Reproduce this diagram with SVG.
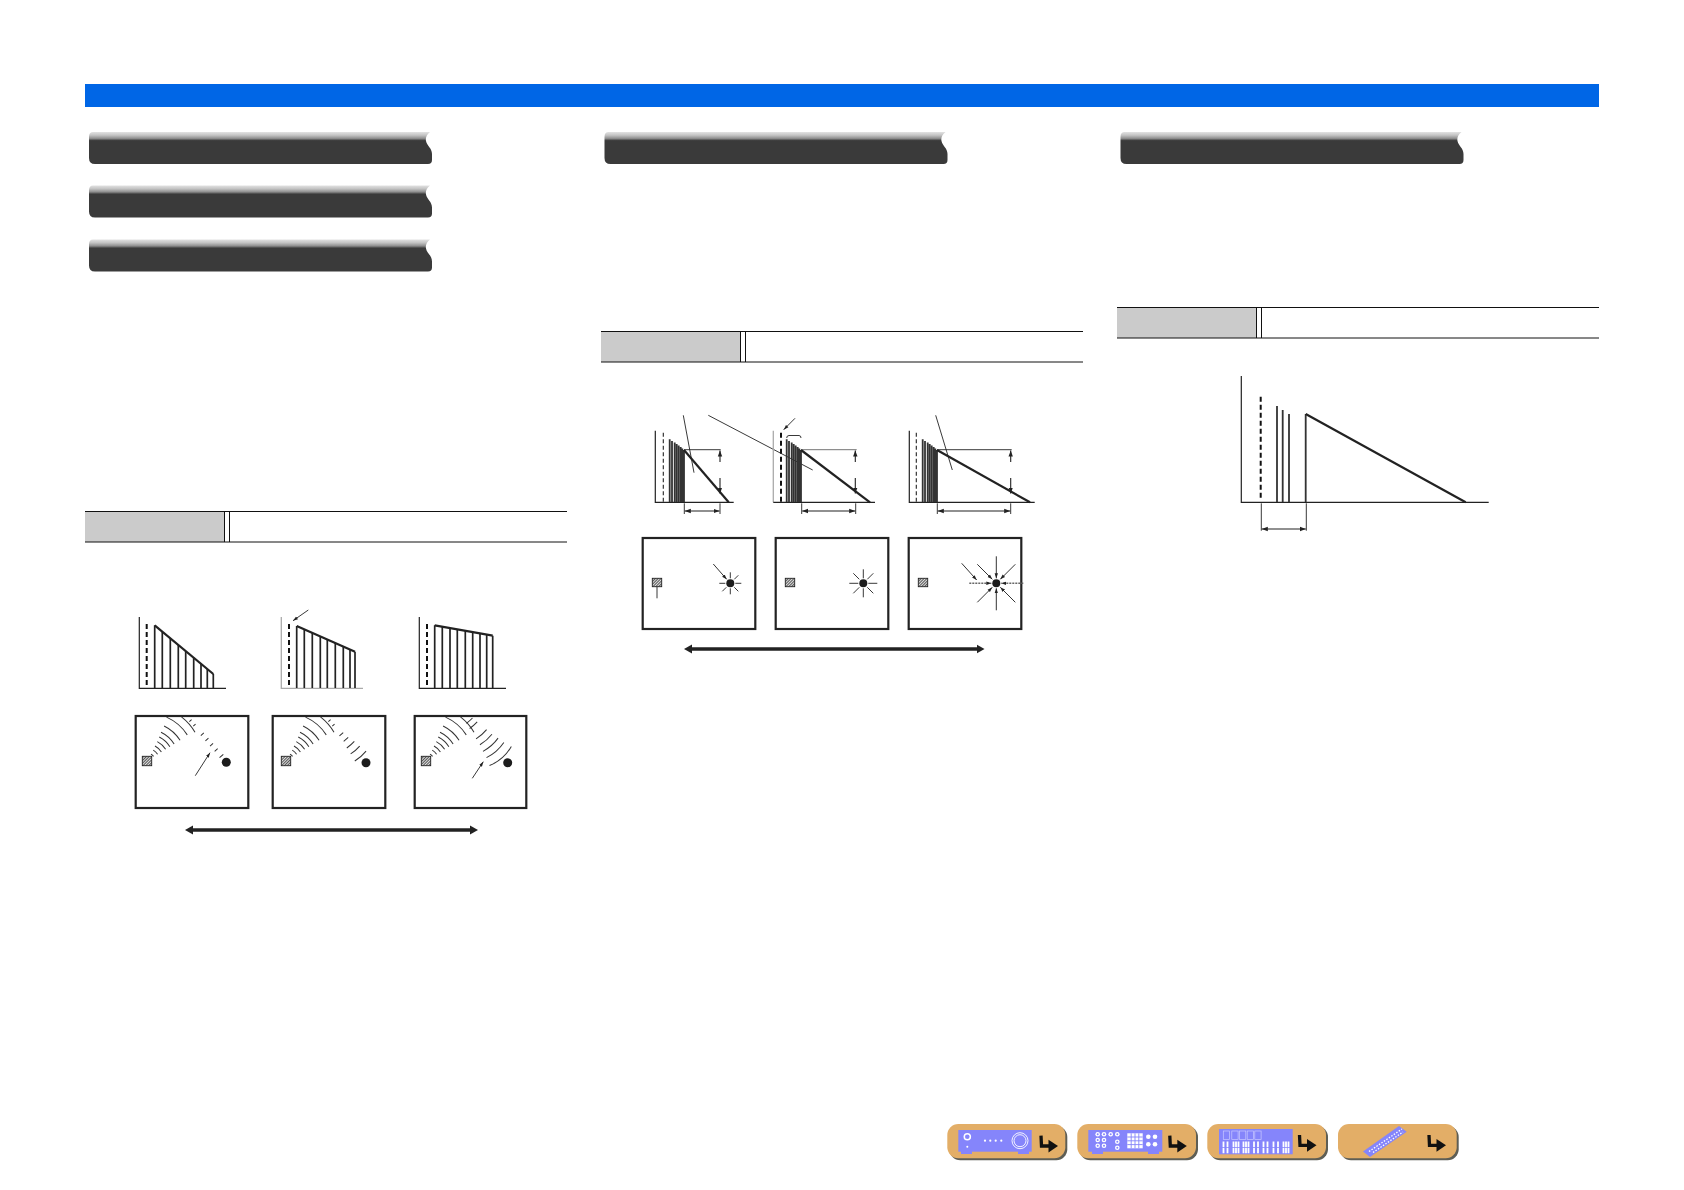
<svg xmlns="http://www.w3.org/2000/svg" xmlns:xlink="http://www.w3.org/1999/xlink" width="1684" height="1190" viewBox="0 0 1684 1190">
<style>
.ax{stroke:#222;stroke-width:1.2;fill:none}
.axg{stroke:#aaa;stroke-width:1.3;fill:none}
.dash{stroke:#111;stroke-width:2;stroke-dasharray:5 3;fill:none}
.thin{stroke:#222;stroke-width:1.1;stroke-dasharray:4 2.5;fill:none}
.bar{stroke:#222;stroke-width:1.7;fill:none}
.bard{stroke:#333;stroke-width:1.8;fill:none}
.top{stroke:#222;stroke-width:2.2;fill:none}
.lead{stroke:#222;stroke-width:.9;fill:none}
.room{fill:#fff;stroke:#222;stroke-width:2.2}
.spk{fill:url(#hatch);stroke:#222;stroke-width:.9}
.lis{fill:#1c1c1c}
.w{fill:none;stroke:#333;stroke-width:1}
.big{stroke:#222;stroke-width:3.6;marker-start:url(#bigh);marker-end:url(#bigh);fill:none}
.dim{stroke:#222;stroke-width:1.1;marker-start:url(#md);marker-end:url(#md);fill:none}
.ray{stroke:#333;stroke-width:1;marker-end:url(#sm);fill:none}
.rayg{stroke:#666;stroke-width:1.4;stroke-dasharray:2 1;marker-end:url(#sm);fill:none}
.btn{fill:#e3ae67}
.shd{fill:#5e5e55}
.dev{fill:#8585fb}
.wh{fill:#fff}
.wl{fill:none;stroke:#fff;stroke-width:.9}
.sec{fill:#cbcbcb}
.secl{stroke:#111;stroke-width:1;fill:none}
</style>
<defs>
<pattern id="hatch" width="2" height="2" patternUnits="userSpaceOnUse" patternTransform="rotate(45)"><rect width="2" height="2" fill="#ddd"/><rect width="1" height="2" fill="#555"/></pattern>
<linearGradient id="bg" x1="0" y1="0" x2="0" y2="1"><stop offset="0" stop-color="#e2e2e2"/><stop offset=".1" stop-color="#c4c4c4"/><stop offset=".2" stop-color="#8f8f8f"/><stop offset=".27" stop-color="#3a3a3a"/><stop offset="1" stop-color="#3a3a3a"/></linearGradient>
<marker id="bigh" markerUnits="userSpaceOnUse" markerWidth="10" markerHeight="10" refX="1" refY="5" orient="auto-start-reverse"><path d="M0 .5L8 5L0 9.500Z" fill="#222"/></marker>
<marker id="sm" markerUnits="userSpaceOnUse" markerWidth="6" markerHeight="5" refX="5" refY="2.500" orient="auto-start-reverse"><path d="M0 .8L5 2.500L0 4.200Z" fill="#222"/></marker>
<marker id="md" markerUnits="userSpaceOnUse" markerWidth="7" markerHeight="6" refX="6" refY="3" orient="auto-start-reverse"><path d="M0 .8L6 3L0 5.200Z" fill="#222"/></marker>
<path id="ban" d="M4 0H341Q336 4 337 9C338 14 343 16 343 22V28Q343 32 339 32H6Q0 32 0 26V5Q0 0 4 0Z" fill="url(#bg)"/>
<g id="sect"><rect class="sec" width="139" height="30.500"/><path class="secl" d="M0 0H482M0 30.500H482M139.500 0V30.500M144.500 0V30.500"/></g>
<g id="inc">
<circle class="w" r="8" pathLength="360" stroke-dasharray="25 360" transform="rotate(-60)"/>
<circle class="w" r="12.500" pathLength="360" stroke-dasharray="28 360" transform="rotate(-60)"/>
<circle class="w" r="17" pathLength="360" stroke-dasharray="30 360" transform="rotate(-62)"/>
<circle class="w" r="22" pathLength="360" stroke-dasharray="30 360" transform="rotate(-62)"/>
<circle class="w" r="27" pathLength="360" stroke-dasharray="31 360" transform="rotate(-63)"/>
<circle class="w" r="32" pathLength="360" stroke-dasharray="32 360" transform="rotate(-64)"/>
<circle class="w" r="39" pathLength="360" stroke-dasharray="32 360" transform="rotate(-64)"/>
<circle class="w" r="48" pathLength="360" stroke-dasharray="33 360" transform="rotate(-66)"/>
<circle class="w" r="56" pathLength="360" stroke-dasharray="21 360" transform="rotate(-52)"/>
</g>
<g id="hook"><path d="M1.500 0L2 10.300H12" fill="none" stroke="#111" stroke-width="3.300"/><path d="M9 4L18.500 10.300L9 16.700Z" fill="#111"/></g>
<g id="sc"><circle r="2.300" class="wh"/><circle r="1" class="dev"/></g>
<g id="ft"><rect x="0" y="0" width="11" height="3" class="dev"/></g>
</defs>
<rect width="1684" height="1190" fill="#fff"/>
<rect id="header-bar" x="85" y="84" width="1514" height="23" fill="#0066e6"/>

<g id="banners">
<use href="#ban" transform="translate(89 132)"/>
<use href="#ban" transform="translate(89 185.500)"/>
<use href="#ban" transform="translate(89 239.500)"/>
<use href="#ban" transform="translate(604.500 132)"/>
<use href="#ban" transform="translate(1120.500 132)"/>
</g>
<g id="section-bars">
<use href="#sect" transform="translate(85 511.500)"/>
<use href="#sect" transform="translate(601 331.500)"/>
<use href="#sect" transform="translate(1117 307.500)"/>
</g>

<g id="decay-charts-left">
<g id="chart1">
<path class="ax" d="M139.300 617V688.300H226"/><path class="dash" d="M146.700 624V688"/>
<path class="bar" d="M154.700 625.300V688M162.300 632V688M170.300 638.500V688M178.300 645V688M185.700 651V688M193.700 657.500V688M201 663.500V688M207.300 669V688M213.300 674V688"/>
<path class="top" d="M154.700 625.300L213.300 674"/>
</g>
<g id="chart2">
<path class="axg" d="M281.300 617V688.300H363"/><path class="dash" d="M289 624V688"/>
<path class="bar" d="M296.700 626V688M304.300 629.500V688M312.300 633V688M320.300 636.500V688M327.300 639.500V688M335.300 643V688M343.300 646.500V688M350 649.500V688M355 651.700V688"/>
<path class="top" d="M296.700 626L355 651.700"/>
<path class="lead" d="M308.300 610L293 620.700" marker-end="url(#sm)"/>
</g>
<g id="chart3">
<path class="ax" d="M419.300 617V688.300H506"/><path class="dash" d="M427 624V688"/>
<path class="bar" d="M434.700 625.300V688M442.300 626.700V688M450 628V688M457.300 629.500V688M465.300 631V688M472.700 632.200V688M480 633.500V688M486.700 634.700V688M492.700 635.700V688"/>
<path class="top" d="M434.700 625.300L492.700 635.700"/>
</g>
</g>

<g id="rooms-left">
<g id="room1">
<rect class="room" x="135.700" y="716" width="112.600" height="92"/>
<rect class="spk" x="142.300" y="756.300" width="9.400" height="9.400"/>
<use href="#inc" x="147" y="761"/>
<g transform="translate(147 671) rotate(48.800)">
<path class="w" d="M66 -1.500V1.500M72 -1.500V1.500M84 -2V2M91 -2V2M98 -2V2M105 -2V2M113 -2.500V2.500"/>
</g>
<circle class="lis" cx="226.300" cy="762.300" r="4.500"/>
<path class="lead" d="M195.300 775.700L210 752.700" marker-end="url(#sm)"/>
</g>
<g id="room2">
<rect class="room" x="272.700" y="716" width="112.600" height="92"/>
<rect class="spk" x="281.300" y="756.300" width="9.400" height="9.400"/>
<use href="#inc" x="286" y="761"/>
<g transform="translate(286 671) rotate(48.800)">
<path class="w" d="M66 -1.500V1.500M72 -1.500V1.500M84 -2.500V2.500M91 -3V3M98 -5A45 45 0 0 1 98 5M105 -6A45 45 0 0 1 105 6M113 -7.500A45 45 0 0 1 113 7.500"/>
</g>
<circle class="lis" cx="366" cy="762.700" r="4.500"/>
</g>
<g id="room3">
<rect class="room" x="414.700" y="716" width="111.600" height="92"/>
<rect class="spk" x="421.300" y="756.300" width="9.400" height="9.400"/>
<use href="#inc" x="426" y="761"/>
<g transform="translate(426 671) rotate(48.800)">
<path class="w" d="M66 -4A45 45 0 0 1 66 4M72 -5A45 45 0 0 1 72 5M84 -7A45 45 0 0 1 84 7M91 -8A45 45 0 0 1 91 8M98 -10A45 45 0 0 1 98 10M105 -11.500A45 45 0 0 1 105 11.500M113 -14.500A45 45 0 0 1 113 14.500"/>
</g>
<circle class="lis" cx="507.700" cy="762.700" r="4.500"/>
<path class="lead" d="M472.300 778.300L483.300 761.700" marker-end="url(#sm)"/>
</g>
<path id="arrow-left" class="big" d="M192 830H471"/>
</g>

<g id="decay-charts-mid">
<g id="chartA">
<path class="ax" d="M655.300 430.700V502.300H733.700"/><path class="thin" d="M663.300 432.700V502"/>
<path class="bard" d="M669.700 439.300V502M672 441V502M674.700 442.500V502M676.700 444V502M678.700 445.500V502M680.700 447V502M682.300 448.500V502M684 450V502"/>
<path class="top" d="M684 450L728.700 502.300"/>
<path class="lead" d="M684 449.700H720.700"/>
<path class="dim" d="M720 450.500V462M720 478V493.500"/>
<path class="lead" d="M684.300 503.300V514M720 503.300V514"/>
<path class="dim" d="M684.800 511H719.500"/>
<path class="lead" d="M683.300 415.300L694 472.700M708.300 415.300L812.700 470"/>
</g>
<g id="chartB">
<path class="axg" d="M773.300 430.700V502.300"/><path class="ax" d="M773.300 502.300H875"/><path class="dash" d="M781 432.700V502"/>
<path class="bard" d="M786.700 439.300V502M789 441V502M791.700 442.500V502M793.700 444V502M795.700 445.500V502M797.700 447V502M799.300 448.500V502M801 450V502"/>
<path class="top" d="M801 450L870 502.300"/>
<path class="lead" d="M801 449.700H856.700" stroke-opacity=".7"/>
<path class="dim" d="M855.300 450.500V462M855.300 478V493.500"/>
<path class="lead" d="M801.700 503.300V514M855.700 503.300V514"/>
<path class="dim" d="M802.200 511H855.200"/>
<path class="lead" d="M795 418.300L783.700 429.700" marker-end="url(#sm)"/>
<path class="lead" d="M786.700 438Q786.700 435.500 789 435.500H799Q801 435.500 801 438"/>
</g>
<g id="chartC">
<path class="ax" d="M909.300 430.700V502.300H1034.700"/><path class="thin" d="M916.300 432.700V502"/>
<path class="bard" d="M922.700 439.300V502M925 441V502M927.700 442.500V502M929.700 444V502M931.700 445.500V502M933.700 447V502M935.300 448.500V502M937 450V502"/>
<path class="top" d="M937 450L1030 502.300"/>
<path class="lead" d="M937 449.700H1011.700"/>
<path class="dim" d="M1010.700 450.500V462M1010.700 478V493.500"/>
<path class="lead" d="M937.300 503.300V514M1010.700 503.300V514"/>
<path class="dim" d="M937.800 511H1010.200"/>
<path class="lead" d="M935.700 415.300L952.300 470"/>
</g>
</g>

<g id="rooms-mid">
<g id="roomA">
<rect class="room" x="642.700" y="538" width="112.600" height="91"/>
<rect class="spk" x="652.300" y="578.300" width="9.400" height="8.400"/>
<path class="lead" d="M657 586.700V598.300"/>
<circle class="lis" cx="730.300" cy="583.300" r="4"/>
<g transform="translate(730.300 583.300)">
<path class="lead" d="M-5 0H-11M5 0H11M0 5V11M0 -5V-11M4 -4L8 -8M-4 4L-8 8M4 4L8 8"/>
</g>
<path class="ray" d="M713.300 564L726.700 579.300"/>
</g>
<g id="roomB">
<rect class="room" x="775.700" y="538" width="112.600" height="91"/>
<rect class="spk" x="785.300" y="578.300" width="9.400" height="8.400"/>
<circle class="lis" cx="863.300" cy="583.300" r="4"/>
<g transform="translate(863.300 583.300)">
<path class="lead" d="M-5 0H-14M5 0H14M0 5V14M0 -5V-14M-4 -4L-10 -10M4 -4L10 -10M-4 4L-10 10M4 4L10 10"/>
</g>
</g>
<g id="roomC">
<rect class="room" x="908.700" y="538" width="112.600" height="91"/>
<rect class="spk" x="918.300" y="578.300" width="9.400" height="8.400"/>
<circle class="lis" cx="996.300" cy="583.300" r="4"/>
<g transform="translate(996.300 583.300)">
<path class="rayg" d="M-27 0H-5"/><path class="rayg" d="M27 0H5"/>
<path class="ray" d="M0 27V5"/><path class="ray" d="M0 -27V-5"/>
<path class="ray" d="M-19 -19L-4 -4"/><path class="ray" d="M19 -19L4 -4"/>
<path class="ray" d="M-19 19L-4 4"/><path class="ray" d="M19 19L4 4"/>
</g>
<path class="ray" d="M961.700 563.300L976.700 580"/>
</g>
<path id="arrow-mid" class="big" d="M691 649H977.500"/>
</g>

<g id="chart-right">
<path class="ax" d="M1241.300 376V502.300H1488.700"/>
<path class="dash" d="M1260.700 396.700V499"/>
<path class="bard" d="M1277 406V502M1282.700 410V502M1289 414V502M1305.700 414V502"/>
<path class="top" d="M1305.700 414L1465.700 502.300"/>
<path class="lead" d="M1261.300 503.300V530.700M1306.300 503.300V530.700"/>
<path class="dim" d="M1261.800 529H1305.800"/>
</g>

<g id="btn-receiver">
<rect class="shd" x="949.300" y="1126" width="118" height="34.300" rx="11"/>
<rect class="btn" x="947.300" y="1124" width="118" height="34.300" rx="11"/>
<rect class="dev" x="958.300" y="1130" width="73.400" height="21.700"/>
<use href="#ft" x="961" y="1151"/><use href="#ft" x="1018" y="1151"/>
<circle cx="967.300" cy="1136.700" r="3.800" class="wh"/><circle cx="967.300" cy="1136.700" r="2.300" class="dev"/>
<circle cx="967.300" cy="1146.700" r="1" class="wh"/>
<circle cx="985" cy="1140.700" r="1.100" class="wh"/><circle cx="990.300" cy="1140.700" r="1.100" class="wh"/><circle cx="995.700" cy="1140.700" r="1.100" class="wh"/><circle cx="1001.300" cy="1140.700" r="1.100" class="wh"/>
<circle cx="1020" cy="1140.700" r="8" class="wl"/><circle cx="1020" cy="1140.700" r="6" class="wl"/>
<use href="#hook" x="1039.500" y="1135.700"/>
</g>
<g id="btn-rear">
<rect class="shd" x="1079.300" y="1126" width="118.700" height="34.300" rx="11"/>
<rect class="btn" x="1077.300" y="1124" width="118.700" height="34.300" rx="11"/>
<rect class="dev" x="1088.300" y="1130" width="74" height="21.700"/>
<use href="#ft" x="1092" y="1151"/><use href="#ft" x="1148" y="1151"/>
<use href="#sc" x="1097.700" y="1134.300"/><use href="#sc" x="1104" y="1134.300"/><use href="#sc" x="1110.700" y="1134.300"/><use href="#sc" x="1117.300" y="1134.300"/>
<use href="#sc" x="1097.700" y="1140"/><use href="#sc" x="1104" y="1140"/>
<use href="#sc" x="1097.700" y="1145.700"/><use href="#sc" x="1104" y="1145.700"/>
<use href="#sc" x="1117.300" y="1141.700"/><use href="#sc" x="1117.300" y="1147.700"/>
<rect class="wh" x="1127.300" y="1133.300" width="15.400" height="15"/>
<path d="M1131.200 1133.300V1148.300M1135 1133.300V1148.300M1138.800 1133.300V1148.300M1127.300 1137H1142.700M1127.300 1140.800H1142.700M1127.300 1144.600H1142.700" stroke="#8585fb" stroke-width=".9" fill="none"/>
<circle cx="1148.300" cy="1136.700" r="2.300" class="wh"/><circle cx="1155" cy="1136.700" r="2.300" class="wh"/>
<circle cx="1148.300" cy="1144.300" r="2.300" class="wh"/><circle cx="1155" cy="1144.300" r="2.300" class="wh"/>
<use href="#hook" x="1168.300" y="1135.700"/>
</g>
<g id="btn-display">
<rect class="shd" x="1209.300" y="1126" width="118.700" height="34.300" rx="11"/>
<rect class="btn" x="1207.300" y="1124" width="118.700" height="34.300" rx="11"/>
<rect class="dev" x="1219" y="1129" width="73.700" height="25.300"/>
<g fill="none" stroke="#c9c9ff" stroke-width=".7">
<rect x="1223.300" y="1131" width="6.300" height="8.500"/><rect x="1231.800" y="1131" width="6.300" height="8.500"/><rect x="1239.500" y="1131" width="6.300" height="8.500"/><rect x="1247.200" y="1131" width="6.300" height="8.500"/><rect x="1254.800" y="1131" width="6.300" height="8.500"/>
</g>
<path d="M1223.500 1141.500V1153.300M1227.500 1141.500V1153.300M1233.500 1141.500V1153.300M1236 1141.500V1153.300M1238.500 1141.500V1153.300M1243.500 1141.500V1153.300M1246 1141.500V1153.300M1248.500 1141.500V1153.300M1254 1141.500V1153.300M1258 1141.500V1153.300M1263.500 1141.500V1153.300M1267.500 1141.500V1153.300M1273.500 1141.500V1153.300M1278 1141.500V1153.300M1283.500 1141.500V1153.300M1286 1141.500V1153.300M1288.500 1141.500V1153.300" stroke="#fff" stroke-width="1.800" fill="none"/>
<path d="M1221 1147.500H1291" stroke="#8585fb" stroke-width=".8"/>
<use href="#hook" x="1298" y="1135"/>
</g>
<g id="btn-remote">
<rect class="shd" x="1340" y="1126" width="118.700" height="34.300" rx="11"/>
<rect class="btn" x="1338" y="1124" width="118.700" height="34.300" rx="11"/>
<path class="dev" d="M1363 1151.500L1399 1126L1406.700 1131.700L1370 1157Z"/>
<path d="M1369 1151.500L1402 1129M1373 1152.500L1403 1132" stroke="#fff" stroke-width="1.300" stroke-dasharray="1.500 1.500" fill="none"/>
<use href="#hook" x="1427.500" y="1135"/>
</g>
</svg>
